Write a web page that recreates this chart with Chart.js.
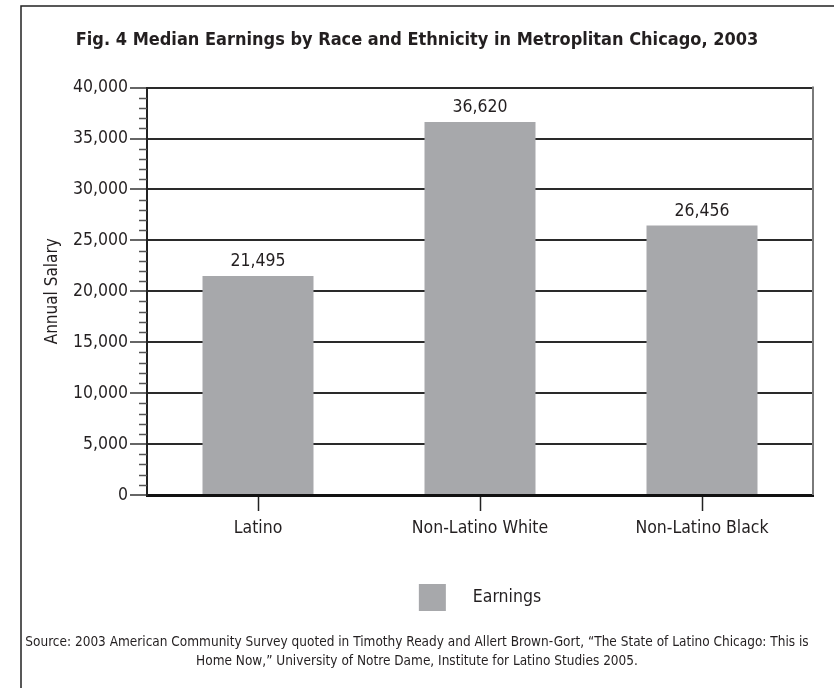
<!DOCTYPE html>
<html>
<head>
<meta charset="utf-8">
<title>Median Earnings by Race and Ethnicity</title>
<script src="https://cdn.jsdelivr.net/npm/chart.js@4/dist/chart.umd.min.js"></script>
<style>
  html, body { margin: 0; padding: 0; background: #fff; }
  #wrap { width: 834px; height: 688px; }
</style>
</head>
<body>
<div id="wrap"><canvas id="earningsChart" width="834" height="688"></canvas></div>
<script>
const categories = ["Latino", "Non-Latino White", "Non-Latino Black"];
const earnings = [21495, 36620, 26456];
const seriesLabel = "Earnings";

const yMin = 0;
const yMax = 40000;
const yMajorStep = 5000;
const yMinorStep = 1000;

const titleText = "Fig. 4 Median Earnings by Race and Ethnicity in Metroplitan Chicago, 2003";
const sourceLines = [
  "Source: 2003 American Community Survey quoted in Timothy Ready and Allert Brown-Gort, \u201cThe State of Latino Chicago: This is",
  "Home Now,\u201d University of Notre Dame, Institute for Latino Studies 2005."
];

const FONT = "'DejaVu Sans Condensed', 'Liberation Sans Narrow', sans-serif";
const INK = "#231f20";
const BAR = "#a7a8ab";


/* ======================================
   HELPERS
====================================== */
function fmt(v) {
  return Number(v).toLocaleString("en-US");
}


/* ======================================
   FRAME + RIGHT EDGE + MINOR TICKS
====================================== */
const framePlugin = {
  id: "frame",
  beforeDraw(chart) {
    const ctx = chart.ctx;
    ctx.save();
    ctx.fillStyle = "#fff";
    ctx.fillRect(0, 0, chart.width, chart.height);
    ctx.strokeStyle = "#222";
    ctx.lineWidth = 1.5;
    ctx.beginPath();
    ctx.moveTo(21, chart.height);
    ctx.lineTo(21, 6);
    ctx.lineTo(chart.width, 6);
    ctx.stroke();
    ctx.restore();
  },
  afterDraw(chart) {
    const ctx = chart.ctx;
    const area = chart.chartArea;
    const y = chart.scales.y;

    ctx.save();
    // minor ticks on the value axis
    ctx.strokeStyle = "#555";
    ctx.lineWidth = 1.5;
    for (let v = yMin + yMinorStep; v < yMax; v += yMinorStep) {
      if (v % yMajorStep === 0) continue;
      const py = Math.round(y.getPixelForValue(v)) + 0.5;
      ctx.beginPath();
      ctx.moveTo(area.left - 8, py);
      ctx.lineTo(area.left, py);
      ctx.stroke();
    }

    // plot frame on the right
    ctx.strokeStyle = "#7a7a7a";
    ctx.lineWidth = 2;
    ctx.beginPath();
    ctx.moveTo(area.right, area.top - 1);
    ctx.lineTo(area.right, area.bottom);
    ctx.stroke();
    ctx.restore();
  }
};


/* ======================================
   VALUE LABELS ABOVE BARS
====================================== */
const valueLabels = {
  id: "valueLabels",
  afterDatasetsDraw(chart) {
    const ctx = chart.ctx;
    const meta = chart.getDatasetMeta(0);
    const values = chart.data.datasets[0].data;
    ctx.save();
    ctx.font = "17.5px " + FONT;
    ctx.fillStyle = INK;
    ctx.textAlign = "center";
    ctx.textBaseline = "alphabetic";
    meta.data.forEach((bar, i) => {
      ctx.fillText(fmt(values[i]), bar.x, bar.y - 10);
    });
    ctx.restore();
  }
};


/* ======================================
   LEGEND (square + label under the axis)
====================================== */
const legendBox = {
  id: "legendBox",
  afterDraw(chart) {
    const ctx = chart.ctx;
    const area = chart.chartArea;
    const ds = chart.data.datasets[0];
    const box = 27;
    const gap = 27;

    ctx.save();
    ctx.font = "17.5px " + FONT;
    const tw = ctx.measureText(ds.label).width;
    const total = box + gap + tw;
    const x0 = (area.left + area.right) / 2 - total / 2;
    const top = area.bottom + 89;

    ctx.fillStyle = ds.backgroundColor;
    ctx.fillRect(x0, top, box, box);
    ctx.fillStyle = INK;
    ctx.textAlign = "left";
    ctx.textBaseline = "middle";
    ctx.fillText(ds.label, x0 + box + gap, top + box / 2);
    ctx.restore();
  }
};


/* ======================================
   CHART
====================================== */
new Chart(document.getElementById("earningsChart"), {
  type: "bar",
  data: {
    labels: categories,
    datasets: [{
      label: seriesLabel,
      data: earnings,
      backgroundColor: BAR,
      borderWidth: 0,
      barPercentage: 0.5,
      categoryPercentage: 1.0
    }]
  },
  options: {
    responsive: false,
    animation: false,
    devicePixelRatio: 1,
    layout: { padding: { left: 21, right: 21, top: 0, bottom: 0 } },
    plugins: {
      legend: { display: false },
      tooltip: { enabled: false },
      title: {
        display: true,
        text: titleText,
        color: INK,
        font: { family: FONT, size: 18, weight: "bold", lineHeight: 1.2 },
        padding: { top: 30, bottom: 36 }
      },
      subtitle: {
        display: true,
        position: "bottom",
        text: sourceLines,
        color: INK,
        font: { family: FONT, size: 13.5, lineHeight: "19px" },
        padding: { top: 0, bottom: 17 }
      }
    },
    scales: {
      x: {
        grid: {
          offset: false,
          drawOnChartArea: false,
          tickLength: 16,
          tickColor: "#222",
          tickWidth: 1.5
        },
        border: { color: "#111", width: 3 },
        ticks: {
          color: INK,
          padding: 7,
          font: { family: FONT, size: 17.5 }
        },
        afterFit(scale) { scale.height = 138; }
      },
      y: {
        min: yMin,
        max: yMax,
        ticks: {
          stepSize: yMajorStep,
          color: INK,
          padding: 2,
          font: { family: FONT, size: 17.5 },
          callback: v => fmt(v)
        },
        grid: {
          color: "#2a2a2a",
          lineWidth: 2,
          tickLength: 17,
          tickColor: "#333",
          tickWidth: 1.5
        },
        border: { color: "#222", width: 2 },
        title: {
          display: true,
          text: "Annual Salary",
          color: INK,
          font: { family: FONT, size: 17, lineHeight: 1.2 },
          padding: { top: 21, bottom: 0 }
        },
        afterFit(scale) { scale.width = 126; }
      }
    }
  },
  plugins: [framePlugin, valueLabels, legendBox]
});
</script>
</body>
</html>
